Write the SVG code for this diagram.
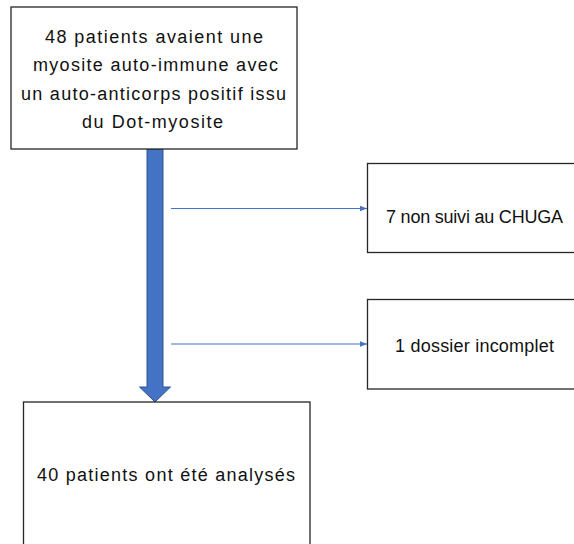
<svg xmlns="http://www.w3.org/2000/svg" width="574" height="544" viewBox="0 0 574 544">
<style>
.box{fill:#fff;stroke:#262626;stroke-width:1.3}
.t{font-family:"Liberation Sans",Arial,sans-serif;font-size:18px;fill:#111;text-anchor:middle}
.thin{stroke:#4472C4;stroke-width:1.2;fill:none;marker-end:url(#ah)}
</style>
<defs>
<marker id="ah" viewBox="0 0 10 10" refX="10" refY="5" markerWidth="7" markerHeight="7" markerUnits="userSpaceOnUse" orient="auto">
<path d="M0,1 L10,5 L0,9 z" fill="#4472C4"/>
</marker>
</defs>
<rect width="574" height="544" fill="#fff"/>
<g id="connectors">
<path id="main-arrow" d="M147,149 L163,149 L163,387 L170.5,387 L155,402 L139.5,387 L147,387 Z" fill="#4472C4" stroke="#2F528F" stroke-width="1"/>
<line class="thin" x1="171" y1="208.5" x2="367" y2="208.5"/>
<line class="thin" x1="171" y1="344" x2="367" y2="344"/>
</g>
<g id="node-start">
<rect class="box" x="11" y="7" width="286" height="142"/>
<text class="t" x="154" y="43" textLength="218" lengthAdjust="spacing">48 patients avaient une</text>
<text class="t" x="155.5" y="71" textLength="245" lengthAdjust="spacing">myosite auto-immune avec</text>
<text class="t" x="153.5" y="99.5" textLength="265" lengthAdjust="spacing">un auto-anticorps positif issu</text>
<text class="t" x="152.5" y="127.5" textLength="141" lengthAdjust="spacing">du Dot-myosite</text>
</g>
<g id="node-excl1">
<rect class="box" x="367.5" y="163.5" width="220" height="89"/>
<text class="t" x="474.5" y="223" textLength="177" lengthAdjust="spacing">7 non suivi au CHUGA</text>
</g>
<g id="node-excl2">
<rect class="box" x="367.5" y="299.5" width="220" height="89.5"/>
<text class="t" x="474.5" y="351.5" textLength="159" lengthAdjust="spacing">1 dossier incomplet</text>
</g>
<g id="node-end">
<rect class="box" x="23.5" y="402" width="286.5" height="160"/>
<text class="t" x="166" y="480.5" textLength="258" lengthAdjust="spacing">40 patients ont été analysés</text>
</g>
</svg>
